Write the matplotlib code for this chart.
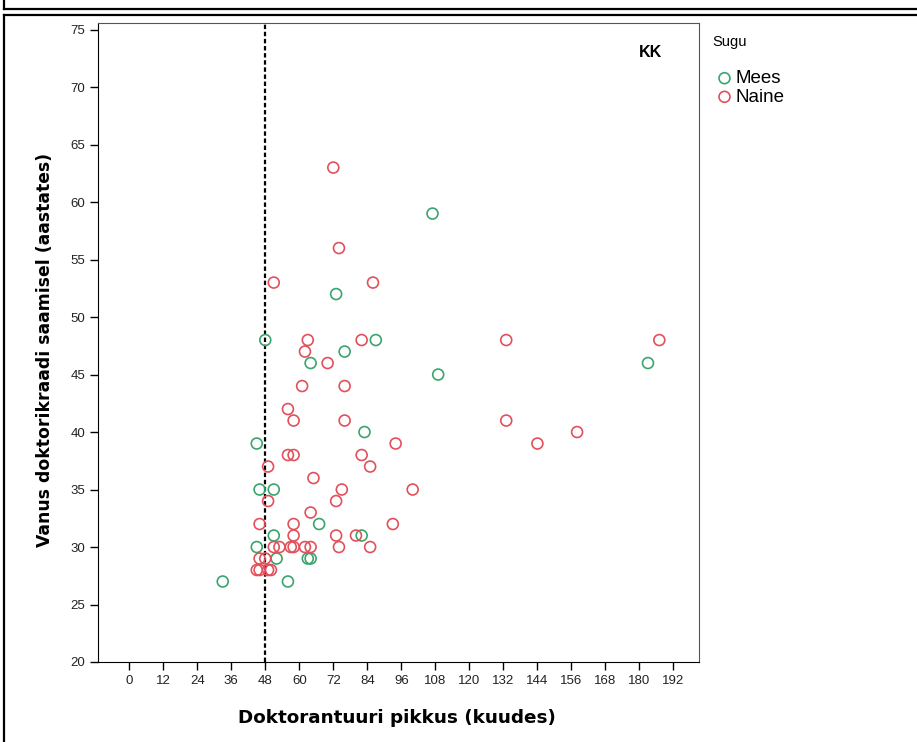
import matplotlib
matplotlib.use("Agg")
import matplotlib.pyplot as plt
from matplotlib.lines import Line2D

# Mees (green)
mees_kuud = [107, 73, 48, 87, 76, 64, 109, 183, 83, 45, 46, 51, 67, 51, 82, 45, 52, 63, 64, 33, 56]
mees_vanus = [59, 52, 48, 48, 47, 46, 45, 46, 40, 39, 35, 35, 32, 31, 31, 30, 29, 29, 29, 27, 27]

# Naine (red)
naine_kuud = [72, 74, 51, 86, 63, 82, 133, 187, 62, 70, 61, 76, 56, 58, 76, 133,
              158, 94, 144, 56, 58, 82, 49, 85, 65, 75, 100, 49, 73, 64, 46, 58, 93,
              58, 73, 80, 51, 53, 57, 58, 62, 64, 74, 85, 46, 48, 45, 46, 49, 50]
naine_vanus = [63, 56, 53, 53, 48, 48, 48, 48, 47, 46, 44, 44, 42, 41, 41, 41,
               40, 39, 39, 38, 38, 38, 37, 37, 36, 35, 35, 34, 34, 33, 32, 32, 32,
               31, 31, 31, 30, 30, 30, 30, 30, 30, 30, 30, 29, 29, 28, 28, 28, 28]

x_ticks = list(range(0, 193, 12))
y_ticks = list(range(20, 76, 5))

GREEN = '#3aa56c'
RED = '#e2505c'

W, H = 917, 742
fig = plt.figure(figsize=(W / 100, H / 100), dpi=100)


def px(x, y):
    return x / W, 1 - y / H


# frames of the output viewer
for (x0, y0), (x1, y1) in [((4, 0), (4, 9)), ((4, 9), (917, 9)),
                           ((4, 15), (917, 15)), ((4, 15), (4, 742))]:
    a, b = px(x0, y0)
    c, d = px(x1, y1)
    fig.add_artist(Line2D([a, c], [b, d], color='black', lw=1.6, transform=fig.transFigure))

ax = fig.add_axes([98 / W, 1 - 662 / H, (699 - 98) / W, (662 - 22.7) / H])

ax.scatter(mees_kuud, mees_vanus, s=62, facecolors='none', edgecolors=GREEN,
           linewidths=1.2, label='Mees', zorder=3)
ax.scatter(naine_kuud, naine_vanus, s=62, facecolors='none', edgecolors=RED,
           linewidths=1.2, label='Naine', zorder=3)

ax.axvline(48, color='black', linestyle=(0, (2, 1.2)), lw=1.6, zorder=2)

ax.set_xlim(-11, 201)
ax.set_ylim(20, 75.6)
ax.set_xticks(x_ticks)
ax.set_yticks(y_ticks)
ax.tick_params(axis='both', direction='out', length=6, width=1, labelsize=9.5,
               labelcolor='#222222', pad=3)
for lab in ax.get_xticklabels() + ax.get_yticklabels():
    lab.set_family('Liberation Sans')
for side in ['top', 'right']:
    ax.spines[side].set_color('#555555')
for side in ['left', 'bottom']:
    ax.spines[side].set_color('black')

ax.text(0.497, -0.088, 'Doktorantuuri pikkus (kuudes)', transform=ax.transAxes,
        ha='center', va='center', fontsize=13.2, fontweight='bold')
ax.text(-0.088, 0.488, 'Vanus doktorikraadi saamisel (aastates)', transform=ax.transAxes,
        ha='center', va='center', rotation=90, fontsize=12.4, fontweight='bold')
ax.text(0.92, 0.953, 'KK', transform=ax.transAxes, ha='center', va='center',
        fontsize=11.5, fontweight='bold', family='Liberation Sans')

# legend
sx, sy = px(712, 42)
fig.text(sx, sy, 'Sugu', ha='left', va='center', fontsize=10.5, family='Liberation Sans')
lx, ly = px(717, 70)
leg = fig.legend(loc='upper left', bbox_to_anchor=(lx, ly), frameon=False,
                 prop={'family': 'Liberation Sans', 'size': 13.5},
                 handletextpad=0.2, labelspacing=0.08, borderpad=0, borderaxespad=0,
                 handlelength=0.8, scatterpoints=1)

fig.savefig('out.png', dpi=100)
